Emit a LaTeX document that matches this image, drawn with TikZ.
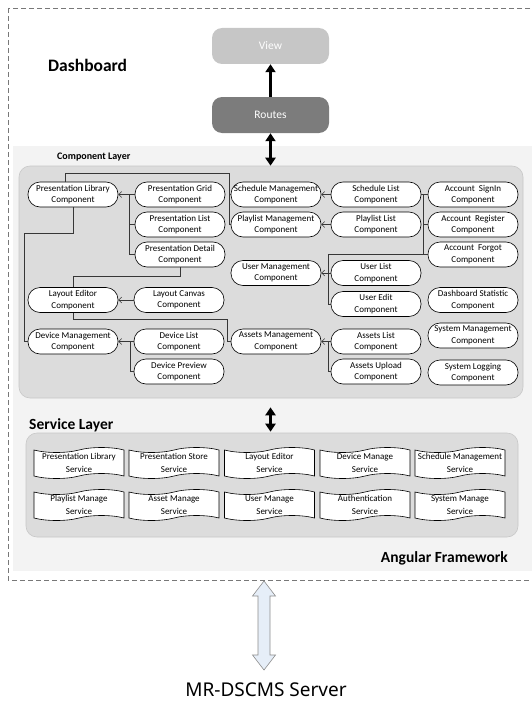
\documentclass[tikz,border=0pt]{standalone}
\usepackage{fontspec}
\setmainfont{Carlito}
\newfontfamily\serverfont{Noto Sans}
\usetikzlibrary{arrows.meta,shapes.symbols}

\definecolor{layerfill}{RGB}{220,220,220}
\definecolor{layerline}{RGB}{200,200,200}
\definecolor{bandfill}{RGB}{243,243,243}
\definecolor{viewfill}{RGB}{198,198,198}
\definecolor{routefill}{RGB}{124,124,124}
\definecolor{linkcol}{RGB}{55,55,55}
\definecolor{hollowfill}{RGB}{230,238,248}
\definecolor{hollowline}{RGB}{140,140,140}
\definecolor{framecol}{RGB}{120,120,120}

\begin{document}
\begin{tikzpicture}[x=1pt,y=-1pt,
  comp/.style={draw=black, line width=0.6pt, fill=white, rounded corners=12pt,
    minimum width=90pt, minimum height=25pt, inner sep=0pt, align=center,
    font=\fontsize{9}{11.5}\selectfont},
  svc/.style={tape, draw=black, line width=0.6pt, fill=white,
    minimum width=90pt, minimum height=31pt, tape bend height=5pt, inner sep=0pt,
    align=center, font=\fontsize{9}{12.5}\selectfont},
  layer/.style={fill=layerfill, draw=layerline, line width=0.6pt, rounded corners=11pt, inner sep=0pt},
  topbox/.style={rounded corners=10pt, minimum width=117pt, minimum height=36pt,
    text=white, font=\fontsize{11.5}{13}\selectfont},
  heavy/.style={line width=3.6pt},
  link/.style={draw=linkcol, line width=0.6pt},
  tip/.style={-{Straight Barb[length=3pt,width=6pt]}},
  title/.style={font=\bfseries, inner sep=0pt},
  hollow/.style={draw=hollowline, fill=hollowfill, line width=0.6pt, line join=miter}
]
\useasboundingbox (0,0) rectangle (531,701);

% framework background and dashed outline
\fill[bandfill] (13,146) rectangle (540,571);
\draw[framecol, line width=0.8pt, dash pattern=on 5pt off 3pt] (8,8) rectangle (545,580);

% titles
\node[title, anchor=west, font=\fontsize{17.5}{20}\bfseries\selectfont] (dash) at (48,65) {Dashboard};
\node[title, anchor=west, font=\fontsize{10}{12}\bfseries\selectfont] (complabel) at (57,157) {Component Layer};
\node[title, anchor=west, font=\fontsize{15.5}{18}\bfseries\selectfont] (svclabel) at (29,425) {Service Layer};
\node[title, anchor=east, font=\fontsize{15.5}{18}\bfseries\selectfont] (angular) at (508,558) {Angular Framework};

% view and routes
\node[topbox, fill=viewfill] (view) at (270.5,46) {View};
\node[topbox, fill=routefill] (routes) at (270.5,115) {Routes};

% layer boxes
\node[layer, minimum width=504pt, minimum height=232pt] (complayer) at (271,282) {};
\node[layer, minimum width=492pt, minimum height=104pt] (svclayer) at (272,485) {};

% heavy arrows
\draw[heavy, -{Triangle[length=8pt,width=10pt]}] (routes.north) -- (view.south);
\draw[heavy, {Triangle[length=8pt,width=10pt]}-{Triangle[length=8pt,width=10pt]}]
  (routes.south) -- (routes.south |- complayer.north);
\draw[heavy, {Triangle[length=8pt,width=10pt]}-{Triangle[length=8pt,width=10pt]},
  shorten <=9pt, shorten >=1pt] (complayer.south -| routes.south) -- (svclayer.north -| routes.south);

% components
\node[comp] (plib)    at (73,194.5)  {Presentation Library\\Component};
\node[comp] (pgrid)   at (180,194.5) {Presentation Grid\\Component};
\node[comp] (plist)   at (180,224.5) {Presentation List\\Component};
\node[comp] (pdetail) at (180,254.5) {Presentation Detail\\Component};
\node[comp] (smgmt)   at (276,194.5) {Schedule Management\\Component};
\node[comp] (plmgmt)  at (276,224.5) {Playlist Management\\Component};
\node[comp] (slist)   at (376,194.5) {Schedule List\\Component};
\node[comp] (pllist)  at (376,224.5) {Playlist List\\Component};
\node[comp] (sign)    at (473,194.5) {Account~ SignIn\\Component};
\node[comp] (reg)     at (473,224.5) {Account~ Register\\Component};
\node[comp] (forgot)  at (473,254.5) {Account~ Forgot\\Component};
\node[comp] (umgmt)   at (276,273)   {User Management\\Component};
\node[comp] (ulist)   at (376,273)   {User List\\Component};
\node[comp] (uedit)   at (376,304)   {User Edit\\Component};
\node[comp] (ledit)   at (73,300)    {Layout Editor\\Component};
\node[comp] (lcanvas) at (179,300)   {Layout Canvas\\Component};
\node[comp] (dstat)   at (473,300)   {Dashboard Statistic\\Component};
\node[comp] (dmgmt)   at (73,341.5)  {Device Management\\Component};
\node[comp] (dlist)   at (179,341.5) {Device List\\Component};
\node[comp] (dprev)   at (179,371.5) {Device Preview\\Component};
\node[comp] (amgmt)   at (276,341.5) {Assets Management\\Component};
\node[comp] (alist)   at (376,341.5) {Assets List\\Component};
\node[comp] (aupload) at (376,371.5) {Assets Upload\\Component};
\node[comp] (sysmgmt) at (473,335.5) {System Management\\Component};
\node[comp] (syslog)  at (473,372.5) {System Logging\\Component};

% bus coordinates
\coordinate (pbus) at (129,0);
\coordinate (dbus) at (130,0);
\coordinate (sbus) at (229,173);
\coordinate (lbus) at (227,319);
\coordinate (abus) at (423,0);
\coordinate (ubus) at (328,0);
\coordinate (libdrop) at (24,233);

% component links
\draw[link, tip] (pgrid.west) -- (plib.east);
\draw[link] (pbus |- pgrid.west) |- (pdetail.west);
\draw[link] (pbus |- plist.west) -- (plist.west);
\draw[link] ([xshift=-8pt]plib.north) |- (sbus) |- (plmgmt.west);
\draw[link] (sbus |- smgmt.west) -- (smgmt.west);
\draw[link] (plib.south) |- (libdrop) |- (dmgmt.west);
\draw[link] (pdetail.south) -- ++(0,9) -| (ledit.north);
\draw[link, tip] (lcanvas.west) -- (ledit.east);
\draw[link] (ledit.south) |- (lbus) |- (amgmt.west);
\draw[link, tip] (dlist.west) -- (dmgmt.east);
\draw[link] (dbus |- dlist.west) |- (dprev.west);
\draw[link, tip] (slist.west) -- (smgmt.east);
\draw[link, tip] (pllist.west) -- (plmgmt.east);
\draw[link] (slist.east) -- (sign.west);
\draw[link] (abus |- sign.west) |- (reg.west);
\draw[link] (abus |- reg.west) |- (forgot.west);
\draw[link] (abus |- forgot.west) -| (ubus |- uedit.west) -- (uedit.west);
\draw[link, tip] (ulist.west) -- (umgmt.east);
\draw[link] (ubus |- ulist.west) -- (ulist.west);
\draw[link, tip] (alist.west) -- (amgmt.east);
\draw[link] (ubus |- alist.west) |- (aupload.west);

% services
\node[svc] (s1)  at (79,463)    {Presentation Library\\Service};
\node[svc] (s2)  at (174,463)   {Presentation Store\\Service};
\node[svc] (s3)  at (269.5,463) {Layout Editor\\Service};
\node[svc] (s4)  at (365,463)   {Device Manage\\Service};
\node[svc] (s5)  at (460,463)   {Schedule Management\\Service};
\node[svc] (s6)  at (79,505)    {Playlist Manage\\Service};
\node[svc] (s7)  at (174,505)   {Asset Manage\\Service};
\node[svc] (s8)  at (269.5,505) {User Manage\\Service};
\node[svc] (s9)  at (365,505)   {Authentication\\Service};
\node[svc] (s10) at (460,505)   {System Manage\\Service};

% server and its two-way link to the framework
\node[font=\serverfont\fontsize{19}{22}\selectfont, inner sep=0pt, anchor=base] (server) at (266,696) {MR-DSCMS Server};
\coordinate (htop) at (264,581);
\draw[hollow] (htop) -- ++(11.5,15) -- ++(-5.5,0) -- ++(0,59) -- ++(5.5,0)
  -- ++(-11.5,15) -- ++(-11.5,-15) -- ++(5.5,0) -- ++(0,-59) -- ++(-5.5,0) -- cycle;
\end{tikzpicture}
\end{document}
